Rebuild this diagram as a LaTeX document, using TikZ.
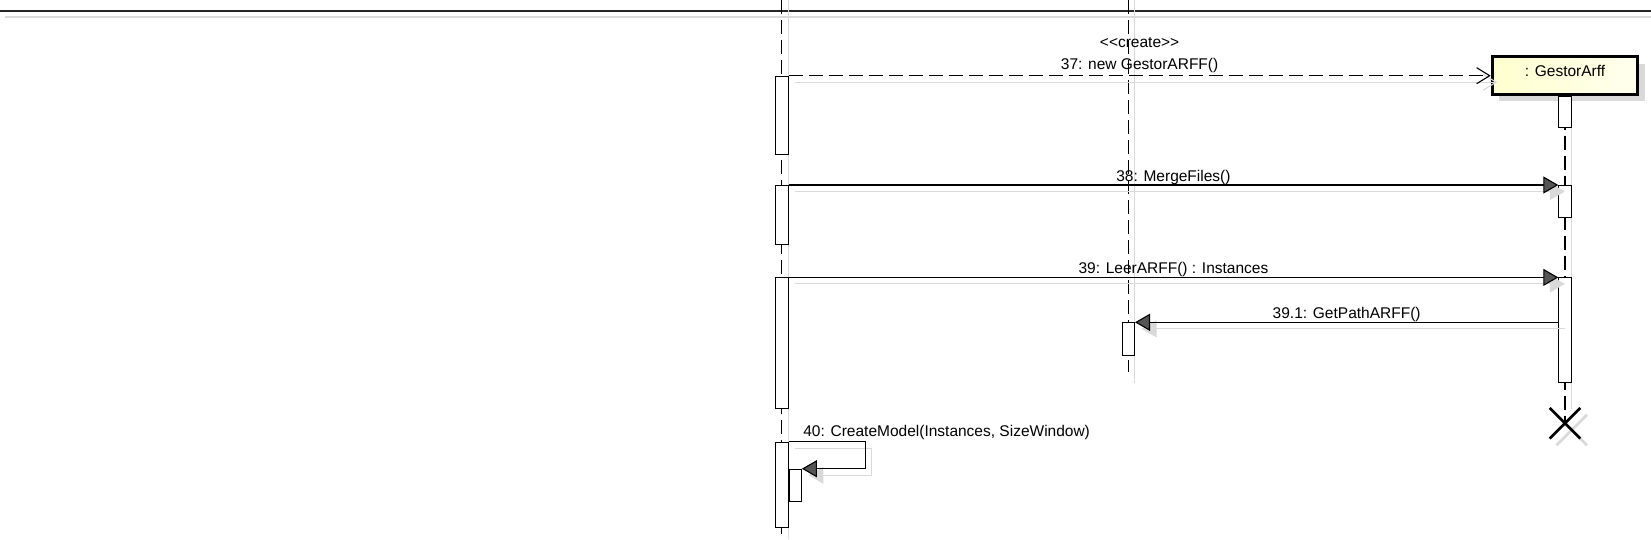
\documentclass[tikz,border=0pt]{standalone}
\usepackage{fontspec}
\setmainfont{Liberation Sans}
\usetikzlibrary{arrows.meta, calc, positioning, shapes.misc, shadows}
\definecolor{cshade}{HTML}{D9D9D9}
\definecolor{cnote}{HTML}{FFFFCF}
\definecolor{chead}{HTML}{555555}

\begin{document}
\begin{tikzpicture}[
  x=1pt, y=-1pt,
  font=\fontsize{15.5}{18}\selectfont,
  lifeline/.style={draw=black, line width=1.3pt, dash pattern=on 14pt off 6pt},
  lifeshadow/.style={draw=cshade, line width=1.3pt, transform canvas={xshift=6.5pt}},
  objbox/.style={
    rectangle, draw=black, line width=3pt, left color=cnote, right color=cnote!35,
    minimum width=145.6pt, minimum height=37.7pt, inner sep=0pt,
    text height=12pt, text depth=9.7pt,
    drop shadow={shadow xshift=7pt, shadow yshift=-7pt, fill=cshade, opacity=1}
  },
  actbar/.style={
    rectangle, draw=black, fill=white, line width=1pt,
    minimum width=12.4pt, inner sep=0pt, anchor=north
  },
  endmark/.style={cross out, draw=black, line width=2.6pt, minimum size=28pt, inner sep=0pt},
  syncmsg/.style={draw=black, line width=1.1pt, -{Triangle[length=15pt, width=17pt, fill=chead]}},
  syncshadow/.style={draw=cshade, line width=1.1pt, -{Triangle[length=15pt, width=17pt]},
    transform canvas={shift={(6.5pt,-6.5pt)}}},
  createmsg/.style={draw=black, line width=1.1pt, dash pattern=on 14pt off 6pt,
    -{Straight Barb[length=13pt, width=16pt]}},
  createshadow/.style={draw=cshade, line width=1.1pt,
    -{Straight Barb[length=13pt, width=16pt]}, transform canvas={shift={(6.5pt,-6.5pt)}}},
  msglabel/.style={midway, anchor=base, yshift=3.5pt, inner sep=0pt}
]
\useasboundingbox (0,0) rectangle (1651,539);

% ============================================================
% Frame edge at the top (objects above are cut off)
\draw[draw=cshade, line width=1.6pt] (5,17) -- (1651,17);
\draw[draw=black!85, line width=1.6pt] (0,11) -- (1651,11);

% Created object and its end
\node[objbox] (ga) at (1565,75.35) {: GestorArff};
\node[endmark, draw=cshade] (xshade) at (1571.7,430) {};
\node[endmark] (xend) at (1565,423.3) {};

% Lifelines
\coordinate (l1top) at (781.8,0);
\coordinate (l1bot) at (781.8,539);
\coordinate (l2top) at (1128.3,0);
\coordinate (l2bot) at (1128.3,372);

\draw[lifeshadow] (l1top) -- (l1bot);
\draw[lifeshadow] (l2top) -- ($(l2bot)+(0,11)$);
\draw[lifeshadow] (ga.south) -- ($(xend.center)+(0,-14)$);
\draw[lifeline] (l1top) -- (l1bot);
\draw[lifeline] (l2top) -- (l2bot);
\draw[lifeline] (ga.south) -- (xend.center);

% Activation bars
\node[actbar, minimum height=78.6pt] (a1) at (781.8,75.7) {};
\node[actbar, minimum height=59pt] (a2) at (781.8,185) {};
\node[actbar, minimum height=131pt] (a3) at (781.8,277.4) {};
\node[actbar, minimum height=85.6pt] (a4) at (781.8,441.7) {};
\node[actbar, minimum height=32.6pt] (a5) at (795.2,468.7) {};
\node[actbar, minimum height=33pt] (b1) at (1128.3,322.3) {};
\node[actbar, minimum height=31.6pt, below=0pt of ga] (c0) {};
\node[actbar, minimum height=32.3pt] (c1) at (1565,185) {};
\node[actbar, minimum height=104.8pt] (c2) at (1565,277.4) {};

% ============================================================
% Messages (shadow first, then the message itself)
\draw[createshadow] (a1.north east) -- (a1.north east -| ga.west);
\draw[createmsg] (a1.north east) --
  node[msglabel, yshift=2.5pt] {37: new GestorARFF()}
  node[msglabel, yshift=25pt] {<\kern0pt<create>\kern0pt>}
  (a1.north east -| ga.west);

\draw[syncshadow] (a2.north east) -- (c1.north west);
\draw[syncmsg] (a2.north east) -- node[msglabel] {38: MergeFiles()} (c1.north west);

\draw[syncshadow] (a3.north east) -- (c2.north west);
\draw[syncmsg] (a3.north east) -- node[msglabel] {39: LeerARFF() : Instances} (c2.north west);

\draw[syncshadow] (b1.north east -| c2.west) -- (b1.north east);
\draw[syncmsg] (b1.north east -| c2.west) -- node[msglabel] {39.1: GetPathARFF()} (b1.north east);

% Self call on the first lifeline
\draw[syncshadow] (a4.north east) -- ++(76.6,0) |- (a5.north east);
\draw[syncmsg] (a4.north east)
  node[anchor=base west, inner sep=0pt, xshift=14.3pt, yshift=5pt] (m40) {40: CreateModel(Instances, SizeWindow)}
  -- ++(76.6,0) |- (a5.north east);

\end{tikzpicture}
\end{document}
